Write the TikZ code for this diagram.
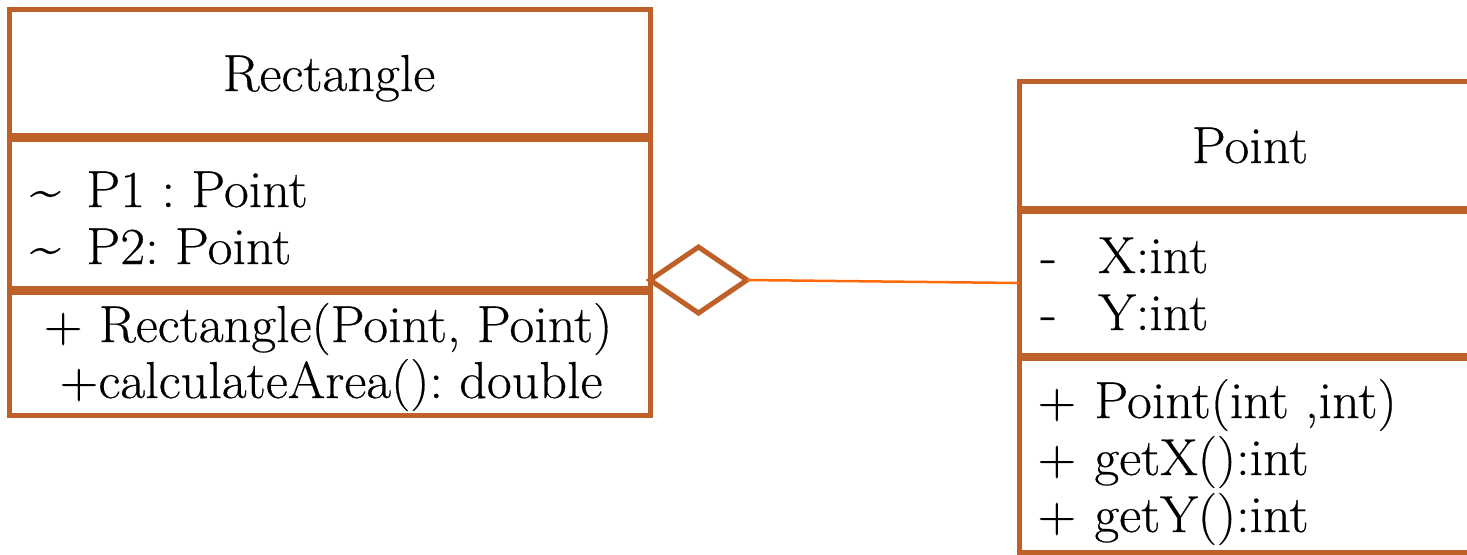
\documentclass[tikz,border=0pt]{standalone}
\usepackage{fontspec}
\setmainfont{Latin Modern Roman}[FakeStretch=1.04, FakeBold=0.4]
\usetikzlibrary{shapes.geometric}
\definecolor{umlbrown}{HTML}{BD6128}
\definecolor{linkorange}{HTML}{FF6A0A}
\frenchspacing
\begin{document}
\begin{tikzpicture}[x=0.5pt,y=-0.5pt,
  compartment/.style={draw=umlbrown, line width=2.5pt, fill=white,
    inner sep=0pt, outer sep=0pt, anchor=north west},
  umltext/.style={inner sep=0pt, text=black, font=\fontsize{26}{30}\selectfont\frenchspacing},
  title/.style={umltext, anchor=base},
  member/.style={umltext, anchor=base west}]

% page frame
\useasboundingbox (0,0) rectangle (1467,554);
\clip (0,0) rectangle (1467,554);
\fill[white] (0,0) rectangle (1467,554);

% class Rectangle
\node[compartment, minimum width=320.5pt, minimum height=63pt] (rhead) at (9,9) {};
\node[compartment, minimum width=320.5pt, minimum height=74.5pt] (rattr) at (9,139) {};
\node[compartment, minimum width=320.5pt, minimum height=61.5pt] (rmeth) at (9,292) {};

\node[title] (rname) at (329,91) {Rectangle};
\node[member] (rvis1) at (30,207) {\textasciitilde};
\node[member] (rattr1) at (86,207) {P1 : Point};
\node[member] (rvis2) at (30,264) {\textasciitilde};
\node[member] (rattr2) at (86,264) {P2: Point};
\node[title] (rop1) at (328,342) {+ Rectangle(Point, Point)};
\node[title] (rop2) at (331,398) {+calculateArea(): double};

% class Point
\node[compartment, minimum width=250pt, minimum height=63.5pt] (phead) at (1019,81) {};
\node[compartment, minimum width=250pt, minimum height=72pt] (pattr) at (1019,211) {};
\node[compartment, minimum width=250pt, minimum height=97pt] (pmeth) at (1019,358) {};

\node[title] (pname) at (1250,163) {Point};
\node[member] (pvis1) at (1040,273) {-};
\node[member] (pattr1) at (1098,273) {X:int};
\node[member] (pvis2) at (1040,330) {-};
\node[member] (pattr2) at (1098,330) {Y:int};
\node[member] (pvis3) at (1037,418) {+};
\node[member] (pop1) at (1094,418) {Point(int ,int)};
\node[member] (pvis4) at (1037,475) {+};
\node[member] (pop2) at (1094,475) {getX():int};
\node[member] (pvis5) at (1037,532) {+};
\node[member] (pop3) at (1094,532) {getY():int};

% aggregation: hollow diamond on the Rectangle side
\node[diamond, draw=umlbrown, fill=white, line width=2.5pt, inner sep=0pt, outer sep=0pt,
  minimum width=48.5pt, minimum height=33pt, anchor=west] (agg) at (650,280) {};
\draw[linkorange, line width=1.25pt] (agg.east) -- (pattr.west);
\end{tikzpicture}
\end{document}
